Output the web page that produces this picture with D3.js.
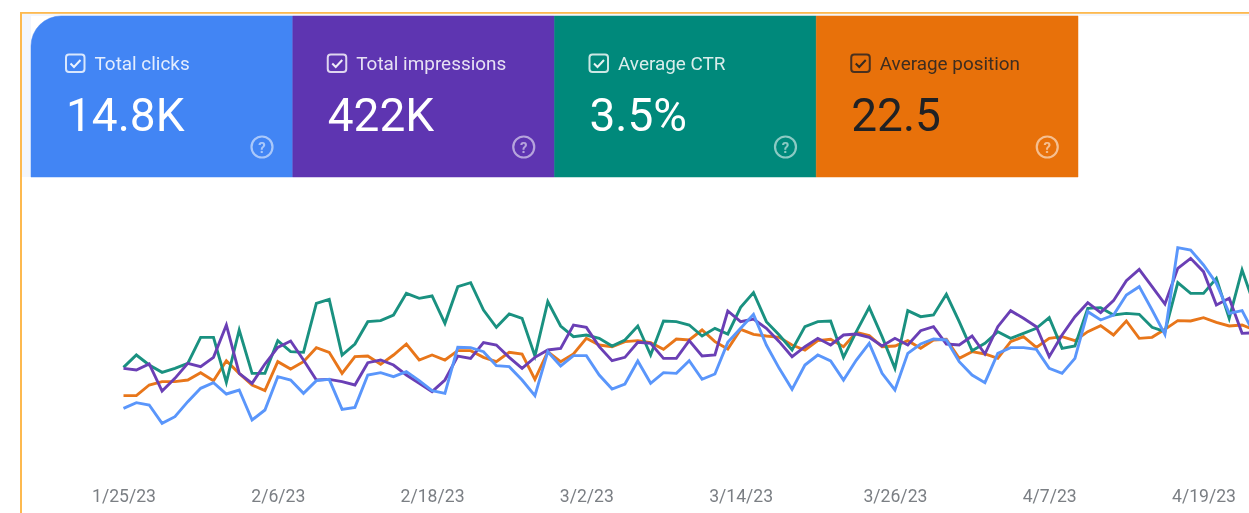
<!DOCTYPE html>
<html>
<head>
<meta charset="utf-8">
<script src="https://cdn.jsdelivr.net/npm/d3@7"></script>
<style>
  html, body { margin: 0; padding: 0; background: #fff; overflow: hidden; }
  svg { display: block; filter: blur(0.45px); }
  text { font-family: Roboto, sans-serif; }
</style>
</head>
<body>
<div id="chart"></div>
<script>
// metric cards
var metricNames = ["Total clicks", "Total impressions", "Average CTR", "Average position"];
var metricValues = ["14.8K", "422K", "3.5%", "22.5"];
var cardColors = ["#4285f4", "#5e35b1", "#00897b", "#e8710a"];
var cardTextColors = ["#ffffff", "#ffffff", "#ffffff", "#202124"];

// x axis labels
var tickLabels = ["1/25/23", "2/6/23", "2/18/23", "3/2/23", "3/14/23", "3/26/23", "4/7/23", "4/19/23"];

// daily values (no y axis in the original so units are arbitrary)
var ctr = [218,255,225,203,215,230,308,308,173,330,200,200,298,265,263,410,422,255,288,355,358,375,
  440,425,432,350,460,472,390,338,378,365,252,415,342,310,315,305,282,300,342,255,357,355,345,312,
  335,318,398,442,355,315,270,340,355,357,248,325,398,310,215,388,370,375,437,355,268,290,325,
  305,320,335,367,275,282,395,397,375,380,377,338,325,472,440,440,485,365,510,400];
var position = [133,133,165,175,175,180,202,178,238,200,165,148,235,213,235,277,263,200,250,252,227,255,
  288,240,255,240,268,268,248,235,263,258,182,265,235,258,305,285,280,295,298,292,272,303,300,330,
  295,273,332,317,312,308,285,270,298,302,280,323,313,280,282,298,275,300,302,245,265,258,245,
  295,310,278,305,310,298,325,343,315,357,305,308,332,358,357,367,353,342,345,330];
var impressions = [215,210,228,147,185,230,220,248,345,200,170,228,278,297,240,180,182,175,165,232,240,225,195,
  170,145,180,252,245,292,285,248,215,248,270,275,345,338,280,238,248,293,290,245,245,298,252,
  255,387,355,363,335,295,250,280,305,285,315,318,308,282,305,285,328,340,288,285,312,258,340,
  388,365,340,250,315,370,412,382,418,478,512,460,408,515,545,505,405,425,320,322];
var clicks = [95,112,105,50,70,115,155,172,138,150,60,90,190,180,140,178,182,92,98,195,202,190,205,
  178,148,140,278,277,265,223,220,180,133,265,222,253,253,195,153,168,237,170,202,200,238,182,
  198,293,335,377,285,215,152,225,255,237,180,240,290,200,150,260,288,303,300,235,195,172,260,
  277,277,272,215,200,245,385,360,375,435,460,390,317,577,570,525,470,380,388,315];

var lineSeries = [
  {values: position, color: "#e8761a"},
  {values: ctr, color: "#1a9180"},
  {values: impressions, color: "#6a3fb5"},
  {values: clicks, color: "#5a96fb"}
];

var width = 1249, height = 513;
var parseDate = d3.utcParse("%-m/%-d/%y");
var formatDate = d3.utcFormat("%-m/%-d/%y");
var startDate = parseDate(tickLabels[0]);

var svg = d3.select("#chart").append("svg")
    .attr("width", width)
    .attr("height", height);

// frame of the screenshot
svg.append("rect").attr("x", 21).attr("y", 13).attr("width", width).attr("height", 3).attr("fill", "#f3f6fd");
svg.append("rect").attr("x", 22).attr("y", 13).attr("width", 9).attr("height", 164).attr("fill", "#f3f6fd");
svg.append("rect").attr("x", 20).attr("y", 12).attr("width", width).attr("height", 1.8).attr("fill", "#fdb94f");
svg.append("rect").attr("x", 20).attr("y", 12).attr("width", 2).attr("height", height).attr("fill", "#fdb94f");

// cards
var cardX = d3.scaleBand().domain(metricNames).range([31, 1078]);
var cardTop = 16, cardH = 161, cornerR = 30;

var cards = svg.selectAll("g.card")
    .data(metricNames)
    .enter().append("g")
    .attr("class", "card")
    .attr("transform", function(d) { return "translate(" + cardX(d) + "," + cardTop + ")"; });

cards.append("path")
    .attr("d", function(d, i) {
      var w = cardX.bandwidth();
      if (i == 0) {
        return "M0," + cardH + "V" + cornerR + "A" + cornerR + "," + cornerR + " 0 0 1 " + cornerR + ",0H" + w + "V" + cardH + "Z";
      }
      return "M0,0H" + w + "V" + cardH + "H0Z";
    })
    .attr("fill", function(d, i) { return cardColors[i]; })
    .attr("stroke", function(d, i) { return cardColors[i]; })
    .attr("stroke-width", 0.5);

// checkbox
cards.append("rect")
    .attr("x", 35).attr("y", 38.5)
    .attr("width", 18.5).attr("height", 17.5)
    .attr("rx", 3)
    .attr("fill", "none")
    .attr("stroke-width", 2)
    .attr("stroke", function(d, i) { return cardTextColors[i]; })
    .attr("stroke-opacity", 0.8);

cards.append("path")
    .attr("d", "M39.5,47.5l3.5,3.5l6.5,-7")
    .attr("fill", "none")
    .attr("stroke-width", 2)
    .attr("stroke", function(d, i) { return cardTextColors[i]; })
    .attr("stroke-opacity", 0.9);

cards.append("text")
    .attr("x", 63.5).attr("y", 53.5)
    .style("font-size", "18.9px")
    .attr("fill", function(d, i) { return cardTextColors[i]; })
    .attr("fill-opacity", 0.85)
    .text(function(d) { return d; });

cards.append("text")
    .attr("x", 35).attr("y", 115)
    .style("font-size", "46px")
    .attr("fill", function(d, i) { return cardTextColors[i]; })
    .text(function(d, i) { return metricValues[i]; });

// help icon
cards.append("circle")
    .attr("cx", 231).attr("cy", 131).attr("r", 10.5)
    .attr("fill", "none")
    .attr("stroke", "#fff")
    .attr("stroke-opacity", 0.55)
    .attr("stroke-width", 2.2);

cards.append("text")
    .attr("x", 231).attr("y", 136.5)
    .attr("text-anchor", "middle")
    .style("font-size", "15px")
    .style("font-weight", "700")
    .attr("fill", "#fff")
    .attr("fill-opacity", 0.55)
    .text("?");

// scales
var x = d3.scaleUtc()
    .domain([startDate, parseDate(tickLabels[7])])
    .range([123.5, 1203.5]);
var y = d3.scaleLinear()
    .domain([0, 660])
    .range([440, 220]);

var line = d3.line()
    .x(function(d, i) { return x(d3.utcDay.offset(startDate, i)); })
    .y(function(d) { return y(d); });

svg.selectAll("path.series")
    .data(lineSeries)
    .enter().append("path")
    .attr("class", "series")
    .attr("fill", "none")
    .attr("stroke-width", 2.9)
    .attr("stroke-linejoin", "miter")
    .attr("stroke", function(d) { return d.color; })
    .attr("d", function(d) { return line(d.values); });

// x axis
var axis = svg.append("g")
    .attr("transform", "translate(0,486)")
    .call(d3.axisBottom(x)
      .tickValues(tickLabels.map(parseDate))
      .tickFormat(formatDate)
      .tickSize(0));

axis.select(".domain").remove();
axis.selectAll("text")
    .style("font-family", "Roboto, sans-serif")
    .style("font-size", "17.6px")
    .attr("fill", "#7b7f84");
</script>
</body>
</html>
